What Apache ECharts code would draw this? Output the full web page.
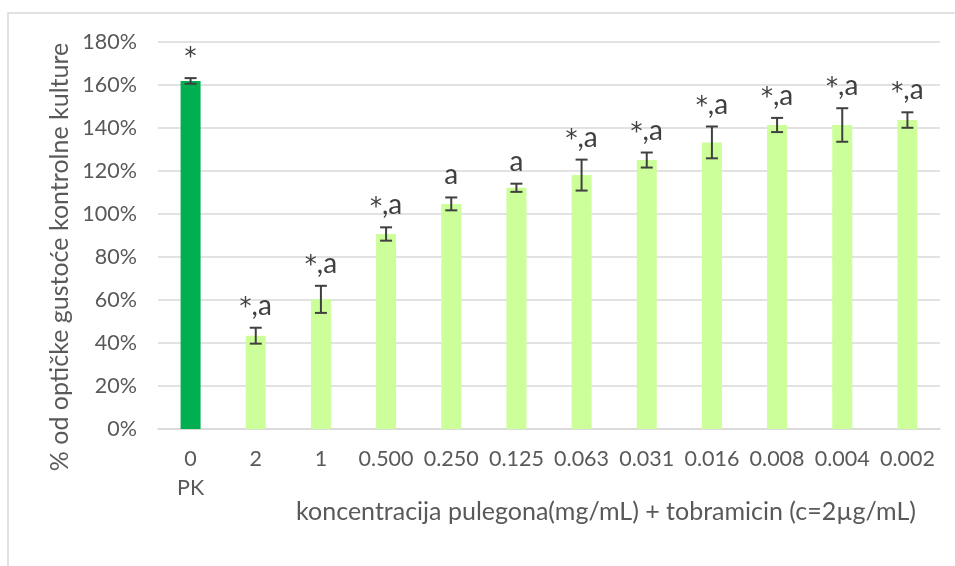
<!DOCTYPE html>
<html>
<head>
<meta charset="utf-8">
<script src="https://cdn.jsdelivr.net/npm/echarts@6/dist/echarts.min.js"></script>
<style>html,body{margin:0;padding:0;background:#fff;}#c{width:955px;height:566px;}</style>
</head>
<body>
<div id="c"></div>
<script>
const categories = ['0\nPK', '2', '1', '0.500', '0.250', '0.125', '0.063', '0.031', '0.016', '0.008', '0.004', '0.002'];
const values = [161.9, 43.4, 60.3, 90.7, 104.7, 112.2, 118.1, 125.1, 133.3, 141.4, 141.4, 143.7];
const errors = [1.3, 3.7, 6.3, 3.1, 3.0, 1.9, 7.2, 3.5, 7.4, 3.3, 7.8, 3.6];
const sigLabels = ['*', '*,a', '*,a', '*,a', 'a', 'a', '*,a', '*,a', '*,a', '*,a', '*,a', '*,a'];
const yTicks = { min: 0, max: 180, interval: 20 };
const xTitle = 'koncentracija pulegona(mg/mL) + tobramicin (c=2µg/mL)';
const yTitle = '% od optičke gustoće kontrolne kulture';

const FONT = 'Lato, "Open Sans", sans-serif';
const chart = echarts.init(document.getElementById('c'), null, { renderer: 'canvas' });

const barData = values.map((v, i) => ({
  value: v,
  itemStyle: { color: i === 0 ? '#00b050' : '#ccff99' }
}));
const errData = values.map((v, i) => [i, v, errors[i]]);

function richLabel(s) {
  return s.split('').map(ch => ch === '*' ? '{s|*}' : '{a|' + ch + '}').join('');
}

chart.setOption({
  animation: false,
  backgroundColor: '#fff',
  grid: { left: 158, right: 15, top: 42, bottom: 137, containLabel: false },
  graphic: [
    { type: 'rect', shape: { x: 8, y: 13, width: 1000, height: 600 }, style: { fill: 'none', stroke: '#d9d9d9', lineWidth: 1.5 }, silent: true, z: -10 },
    { type: 'text', x: 606, y: 512, style: { text: xTitle, font: '25px ' + FONT, fill: '#595959', textAlign: 'center', textVerticalAlign: 'middle' } },
    { type: 'text', x: 60, y: 257, rotation: Math.PI / 2, style: { text: yTitle, font: '25px ' + FONT, fill: '#595959', textAlign: 'center', textVerticalAlign: 'middle' } }
  ],
  xAxis: {
    type: 'category',
    data: categories,
    axisTick: { show: false },
    axisLine: { lineStyle: { color: '#d9d9d9', width: 1.5 } },
    axisLabel: { color: '#595959', fontFamily: FONT, fontSize: 21.5, lineHeight: 29, margin: 16, interval: 0 }
  },
  yAxis: {
    type: 'value',
    min: yTicks.min, max: yTicks.max, interval: yTicks.interval,
    axisLine: { show: false },
    axisTick: { show: false },
    splitLine: { lineStyle: { color: '#d9d9d9', width: 1.5 } },
    axisLabel: { color: '#595959', fontFamily: FONT, fontSize: 21.5, margin: 21, formatter: '{value}%' }
  },
  series: [
    { type: 'bar', data: barData, barWidth: 20 },
    {
      type: 'custom',
      data: errData,
      z: 5,
      renderItem: function (params, api) {
        const i = api.value(0), v = api.value(1), e = api.value(2);
        const hi = api.coord([i, v + e]);
        const lo = api.coord([i, v - e]);
        const hw = 6;
        const st = { stroke: '#404040', lineWidth: 2 };
        return {
          type: 'group',
          children: [
            { type: 'line', shape: { x1: hi[0], y1: hi[1], x2: lo[0], y2: lo[1] }, style: st },
            { type: 'line', shape: { x1: hi[0] - hw, y1: hi[1], x2: hi[0] + hw, y2: hi[1] }, style: st },
            { type: 'line', shape: { x1: lo[0] - hw, y1: lo[1], x2: lo[0] + hw, y2: lo[1] }, style: st },
            {
              type: 'text', x: hi[0], y: hi[1] - 23,
              style: {
                text: richLabel(sigLabels[params.dataIndex]),
                fill: '#404040', textAlign: 'center', textVerticalAlign: 'middle',
                rich: {
                  s: { fontFamily: '"DejaVu Sans"', fontSize: 24, lineHeight: 30, verticalAlign: 'bottom', fill: '#404040' },
                  a: { fontFamily: FONT, fontSize: 28, lineHeight: 30, verticalAlign: 'bottom', fill: '#404040' }
                }
              }
            }
          ]
        };
      }
    }
  ]
});
</script>
</body>
</html>
